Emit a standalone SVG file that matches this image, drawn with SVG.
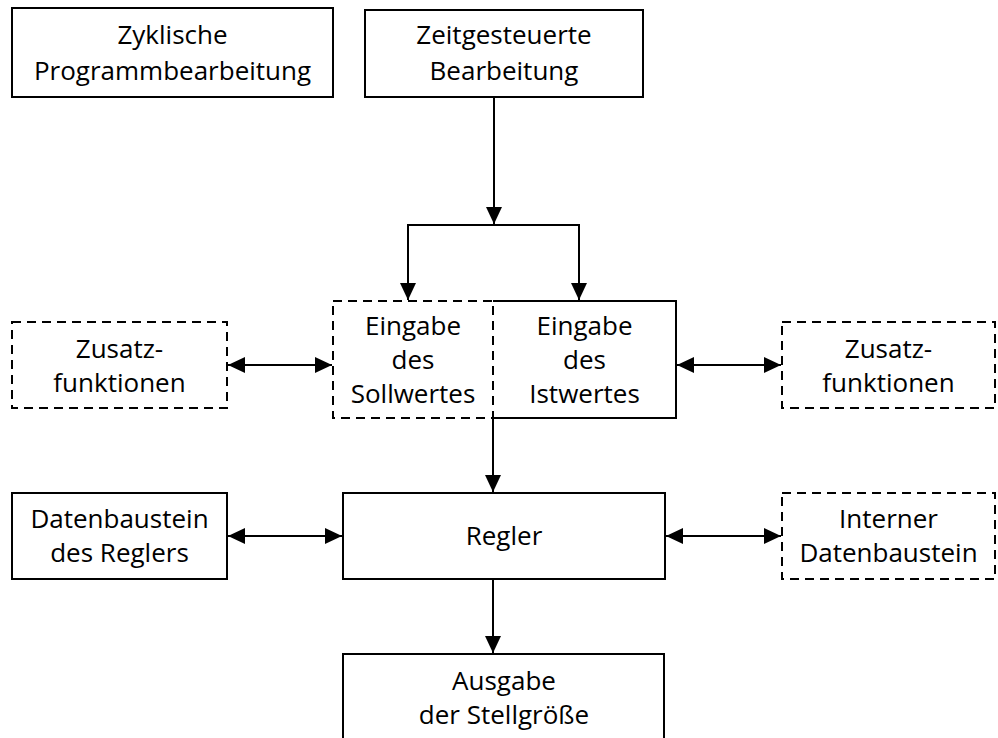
<svg xmlns="http://www.w3.org/2000/svg" width="998" height="738" viewBox="0 0 998 738">
  <defs>
    <marker id="arrow" viewBox="0 0 17 16" refX="17" refY="8" markerWidth="17" markerHeight="16" markerUnits="userSpaceOnUse" orient="auto-start-reverse">
      <path d="M0,0 L17,8 L0,16 Z" fill="#000"/>
    </marker>
  </defs>
  <style>
    .box { fill: none; stroke: #000; stroke-width: 2; }
    .dash { fill: none; stroke: #000; stroke-width: 2; stroke-dasharray: 9 6; }
    .wire { fill: none; stroke: #000; stroke-width: 2; }
    text { font-family: "Open Sans", "Noto Sans", sans-serif; font-size: 26px; fill: #000; text-anchor: middle; }
  </style>
  <rect width="998" height="738" fill="#fff"/>

  <g id="zyklisch">
    <rect class="box" x="12" y="8" width="321" height="89"/>
    <text x="172.5" y="44">Zyklische</text>
    <text x="172.5" y="80">Programmbearbeitung</text>
  </g>

  <g id="zeitgesteuert">
    <rect class="box" x="365" y="10" width="278" height="87"/>
    <text x="504" y="44">Zeitgesteuerte</text>
    <text x="504" y="80">Bearbeitung</text>
  </g>

  <g id="sollwert">
    <rect class="dash" x="333" y="301" width="160" height="117"/>
    <text x="413" y="335">Eingabe</text>
    <text x="413" y="369">des</text>
    <text x="413" y="403">Sollwertes</text>
  </g>

  <g id="istwert">
    <path class="box" d="M493,301 H676 V418 H493"/>
    <text x="584.5" y="335">Eingabe</text>
    <text x="584.5" y="369">des</text>
    <text x="584.5" y="403">Istwertes</text>
  </g>

  <g id="zusatz-links">
    <rect class="dash" x="12" y="322" width="215" height="86"/>
    <text x="119.5" y="358">Zusatz-</text>
    <text x="119.5" y="392">funktionen</text>
  </g>

  <g id="zusatz-rechts">
    <rect class="dash" x="782" y="322" width="213" height="86"/>
    <text x="888.5" y="358">Zusatz-</text>
    <text x="888.5" y="392">funktionen</text>
  </g>

  <g id="datenbaustein">
    <rect class="box" x="12" y="493" width="215" height="86"/>
    <text x="119.5" y="528">Datenbaustein</text>
    <text x="119.5" y="562">des Reglers</text>
  </g>

  <g id="regler">
    <rect class="box" x="343" y="493" width="322" height="86"/>
    <text x="504" y="545">Regler</text>
  </g>

  <g id="interner-datenbaustein">
    <rect class="dash" x="782" y="493" width="213" height="86"/>
    <text x="888.5" y="528">Interner</text>
    <text x="888.5" y="562">Datenbaustein</text>
  </g>

  <g id="ausgabe">
    <path class="box" d="M343,738 V654 H664 V738"/>
    <text x="504" y="690">Ausgabe</text>
    <text x="504" y="724">der Stellgröße</text>
  </g>

  <g id="connectors">
    <line class="wire" x1="494" y1="97" x2="494" y2="224" marker-end="url(#arrow)"/>
    <path class="wire" d="M408,300 V225 H579 V300" marker-start="url(#arrow)" marker-end="url(#arrow)"/>
    <line class="wire" x1="228" y1="365" x2="332" y2="365" marker-start="url(#arrow)" marker-end="url(#arrow)"/>
    <line class="wire" x1="677" y1="365" x2="781" y2="365" marker-start="url(#arrow)" marker-end="url(#arrow)"/>
    <line class="wire" x1="493" y1="418" x2="493" y2="492" marker-end="url(#arrow)"/>
    <line class="wire" x1="228" y1="536" x2="342" y2="536" marker-start="url(#arrow)" marker-end="url(#arrow)"/>
    <line class="wire" x1="666" y1="536" x2="781" y2="536" marker-start="url(#arrow)" marker-end="url(#arrow)"/>
    <line class="wire" x1="493" y1="579" x2="493" y2="653" marker-end="url(#arrow)"/>
  </g>
</svg>
